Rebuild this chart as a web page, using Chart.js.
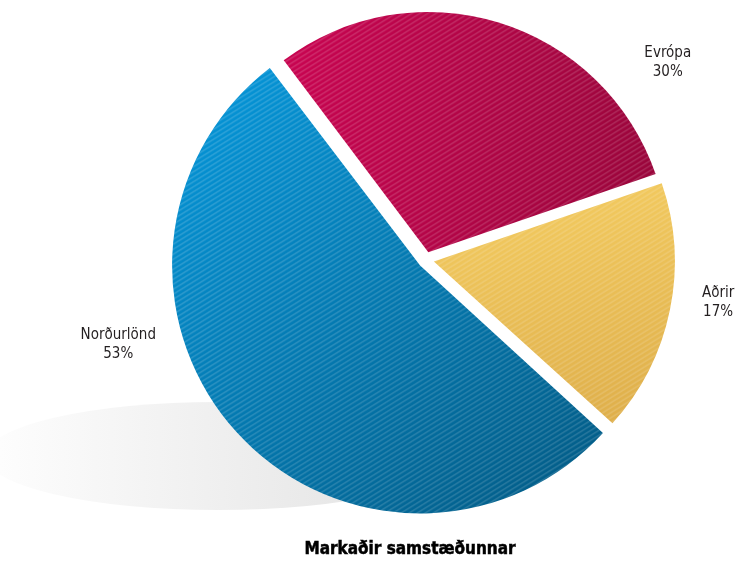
<!DOCTYPE html>
<html>
<head>
<meta charset="utf-8">
<script src="https://cdn.jsdelivr.net/npm/chart.js@4/dist/chart.umd.min.js"></script>
<style>
    html, body { margin: 0; padding: 0; background: #ffffff; }
    #wrap { width: 742px; height: 562px; }
</style>
</head>
<body>
<div id="wrap"><canvas id="marketChart" width="742" height="562"></canvas></div>
<script>
// gögn
const categories = ["Evrópa", "Aðrir", "Norðurlönd"];
const shares = [30, 17, 53];
const chartTitle = "Markaðir samstæðunnar";

const W = 742, H = 562;
const narrow = '"Liberation Sans Narrow", "DejaVu Sans Condensed", sans-serif';

// litir: ljós -> dökkur, með stefnu hallans
const sliceStyles = [
    { from: "#c70450", to: "#9a053b", x0: 290, y0: 120, x1: 650, y1: 170 },
    { from: "#f3cb60", to: "#deae4a", x0: 550, y0: 180, x1: 600, y1: 430 },
    { from: "#0595d8", to: "#035d88", x0: 200, y0: 90, x1: 560, y1: 500 },
];
// staðsetning merkja: horn frá toppi (gráður) og hlutfall af radíus
const labelPlacement = [
    { angle: 50.8, dist: 1.30 },
    { angle: 98.3, dist: 1.23 },
    { angle: 254.6, dist: 1.33 },
];

const canvas = document.getElementById("marketChart");
const ctx = canvas.getContext("2d");

// skástrikað mynstur ofan á halla
function stripedFill(s) {
    const c = document.createElement("canvas");
    c.width = W;
    c.height = H;
    const g = c.getContext("2d");
    const grad = g.createLinearGradient(s.x0, s.y0, s.x1, s.y1);
    grad.addColorStop(0, s.from);
    grad.addColorStop(1, s.to);
    g.fillStyle = grad;
    g.fillRect(0, 0, W, H);
    g.strokeStyle = "rgba(255,255,255,0.22)";
    g.lineWidth = 1.1;
    const slope = 0.62;
    for (let y = 0; y < H + W * slope; y += 5) {
        g.beginPath();
        g.moveTo(0, y);
        g.lineTo(W, y - W * slope);
        g.stroke();
    }
    return ctx.createPattern(c, "no-repeat");
}

// skuggi undir kökunni
const shadowPlugin = {
    id: "shadow",
    beforeDatasetsDraw(chart) {
        const c = chart.ctx;
        c.save();
        const grad = c.createLinearGradient(0, 0, 430, 0);
        grad.addColorStop(0, "#fdfdfd");
        grad.addColorStop(1, "#e2e2e2");
        c.fillStyle = grad;
        c.beginPath();
        c.ellipse(218, 456, 232, 54, 0, 0, Math.PI * 2);
        c.fill();
        c.restore();
    }
};

// merki og titill
const textPlugin = {
    id: "texts",
    afterDraw(chart) {
        const c = chart.ctx;
        const meta = chart.getDatasetMeta(0);
        const arc0 = meta.data[0];
        const cx = arc0.x, cy = arc0.y, r = arc0.outerRadius;
        c.save();
        c.fillStyle = "#231f20";
        c.textAlign = "center";
        c.textBaseline = "middle";
        c.font = "15px " + narrow;
        meta.data.forEach((arc, i) => {
            const p = labelPlacement[i];
            const a = p.angle * Math.PI / 180;
            const x = cx + Math.sin(a) * r * p.dist;
            const y = cy - Math.cos(a) * r * p.dist;
            c.fillText(categories[i], x, y - 9.5);
            c.fillText(shares[i] + "%", x, y + 9.5);
        });
        c.fillStyle = "#000000";
        c.strokeStyle = "#000000";
        c.lineWidth = 0.5;
        c.font = "bold 17px " + narrow;
        c.fillText(chartTitle, 410, 550);
        c.strokeText(chartTitle, 410, 550);
        c.restore();
    }
};

new Chart(ctx, {
    type: "pie",
    data: {
        labels: categories,
        datasets: [
            {
                data: shares,
                backgroundColor: sliceStyles.map(stripedFill),
                borderWidth: 0,
                offset: 32,
                hoverOffset: 0,
            },
        ],
    },
    options: {
        responsive: false,
        animation: false,
        rotation: -37,
        layout: {
            padding: { top: 4, bottom: 46, left: 168, right: 58 },
        },
        plugins: {
            legend: { display: false },
            tooltip: { enabled: false },
        },
        events: [],
    },
    plugins: [shadowPlugin, textPlugin],
});
</script>
</body>
</html>
